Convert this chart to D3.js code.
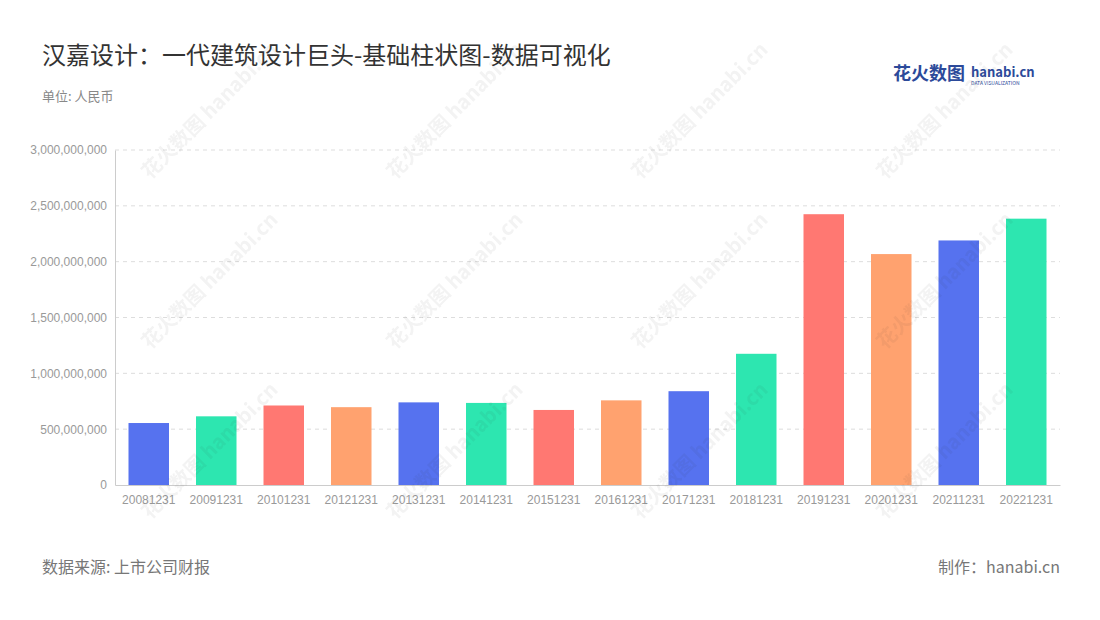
<!DOCTYPE html>
<meta charset='utf-8'>
<style>
  body { margin: 0; background: #fff; font-family: 'Noto Sans CJK SC', 'Noto Sans', sans-serif; }
  .grid line { stroke: #ddd; stroke-dasharray: 4,4; }
  .axisX text, .axisY text { fill: #999; font-size: 12px; }
</style>
<body>
<div id='viz'></div>
<script src='https://d3js.org/d3.v7.min.js'></script>
<script>
// Data
var years  = ['20081231','20091231','20101231','20121231','20131231','20141231','20151231',
              '20161231','20171231','20181231','20191231','20201231','20211231','20221231'];
var values = [555e6, 615e6, 712e6, 697e6, 740e6, 735e6, 672e6,
              758e6, 840e6, 1175e6, 2425e6, 2068e6, 2190e6, 2385e6];
var yTicks = [0, 5e8, 1e9, 1.5e9, 2e9, 2.5e9, 3e9];
var palette = ['#5672ef', '#2de6b0', '#ff7872', '#ffa26f'];

var W = 1100, H = 620;
var margin = {top: 150, right: 40, bottom: 135, left: 115},
    width = W - margin.left - margin.right,
    height = H - margin.top - margin.bottom;

var svg = d3.select('#viz').append('svg').attr('width', W).attr('height', H);

svg.append('text').attr('x', 42).attr('y', 64).attr('font-size', 24).attr('fill', '#333')
   .text('汉嘉设计：一代建筑设计巨头-基础柱状图-数据可视化');
svg.append('text').attr('x', 42).attr('y', 101).attr('font-size', 13).attr('fill', '#888')
   .text('单位: 人民币');
svg.append('text').attr('x', 42).attr('y', 573).attr('font-size', 16).attr('fill', '#777')
   .text('数据来源: 上市公司财报');
svg.append('text').attr('x', 1060).attr('y', 573).attr('font-size', 16).attr('fill', '#777')
   .attr('text-anchor', 'end').text('制作：hanabi.cn');

// logo
var logo = svg.append('g').attr('transform', 'translate(893,80)');
logo.append('text').attr('font-size', 18).attr('font-weight', 700).attr('fill', '#2c4a9a').text('花火数图');
logo.append('text').attr('x', 78).attr('y', -3).attr('font-size', 13).attr('font-weight', 700).attr('fill', '#2c4a9a').text('hanabi.cn');
logo.append('text').attr('x', 78).attr('y', 5).attr('font-size', 5).attr('fill', '#2c4a9a').text('DATA VISUALIZATION');

var x = d3.scaleBand().domain(years).range([0, width]).paddingInner(0.4).paddingOuter(0.2);
var y = d3.scaleLinear().domain([0, 3e9]).range([height, 0]);

var g = svg.append('g').attr('transform', 'translate(' + margin.left + ',' + margin.top + ')');

g.append('g').attr('class', 'grid')
  .selectAll('line').data(yTicks.slice(1)).enter().append('line')
  .attr('x1', 0).attr('x2', width).attr('y1', d => y(d)).attr('y2', d => y(d));

var ay = g.append('g').attr('class', 'axisY')
  .call(d3.axisLeft(y).tickValues(yTicks).tickFormat(d3.format(',')).tickSize(0).tickPadding(8));
ay.select('.domain').attr('stroke', '#ccc');

var ax = g.append('g').attr('class', 'axisX').attr('transform', 'translate(0,' + height + ')')
  .call(d3.axisBottom(x).tickSize(0).tickPadding(10));
ax.select('.domain').attr('stroke', '#ccc');

g.selectAll('.bar').data(values).enter().append('rect')
  .attr('class', 'bar')
  .attr('x', (d, i) => x(years[i]))
  .attr('width', x.bandwidth())
  .attr('y', d => y(d))
  .attr('height', d => height - y(d))
  .attr('fill', (d, i) => palette[i % 4]);

// faint watermarks
var wm = svg.append('g').attr('opacity', 0.06).attr('fill', '#333');
[[150,180],[395,180],[640,180],[885,180],[150,350],[395,350],[640,350],[885,350],[150,520],[395,520],[640,520],[885,520]]
  .forEach(function(p){
    wm.append('text').attr('transform', 'translate(' + p[0] + ',' + p[1] + ') rotate(-45)')
      .attr('font-size', 20).attr('font-weight', 700).text('花火数图 hanabi.cn');
  });
</script>
</body>
